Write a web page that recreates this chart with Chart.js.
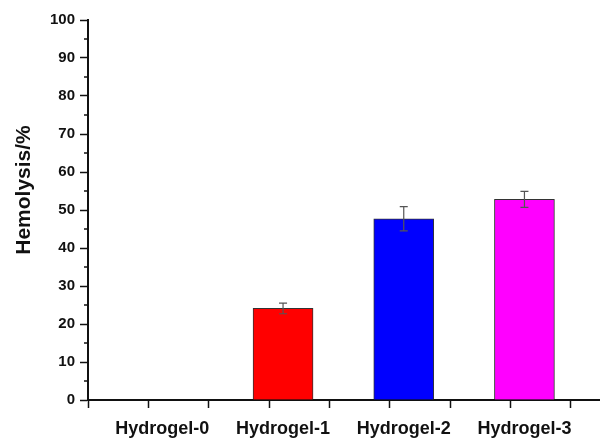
<!DOCTYPE html>
<html>
<head>
<meta charset="utf-8">
<script src="https://cdn.jsdelivr.net/npm/chart.js@4/dist/chart.umd.min.js"></script>
<style>
  body { margin: 0; background: #fff; }
</style>
</head>
<body>
<canvas id="chart" width="600" height="438"></canvas>
<script>
// data
let categories = ["Hydrogel-0", "Hydrogel-1", "Hydrogel-2", "Hydrogel-3"];
let hemolysis = [0, 24.1, 47.7, 52.8];
let errors = [0, 1.4, 3.2, 2.1];
let barColors = ["#ff0000", "#ff0000", "#0000ff", "#ff00ff"];
let yTitle = "Hemolysis/%";

let font = "'Liberation Sans', Arial, sans-serif";

// error bars on top of the columns
let errorBars = {
  id: "errorBars",
  afterDatasetsDraw(chart) {
    let ctx = chart.ctx;
    let y = chart.scales.y;
    let meta = chart.getDatasetMeta(0);
    ctx.save();
    ctx.strokeStyle = "#555";
    ctx.lineWidth = 1.2;
    meta.data.forEach((bar, i) => {
      if (!errors[i]) return;
      let top = y.getPixelForValue(hemolysis[i] + errors[i]);
      let bot = y.getPixelForValue(hemolysis[i] - errors[i]);
      ctx.beginPath();
      ctx.moveTo(bar.x, top); ctx.lineTo(bar.x, bot);
      ctx.moveTo(bar.x - 4, top); ctx.lineTo(bar.x + 4, top);
      ctx.moveTo(bar.x - 4, bot); ctx.lineTo(bar.x + 4, bot);
      ctx.stroke();
    });
    ctx.restore();
  }
};

// short minor ticks on the y axis + the y title (sits a bit above centre)
let axisExtras = {
  id: "axisExtras",
  afterDraw(chart) {
    let ctx = chart.ctx;
    let y = chart.scales.y;
    ctx.save();
    ctx.strokeStyle = "#111";
    ctx.lineWidth = 1.5;
    y.ticks.forEach(t => {
      if (t.value % 10 === 0) return;
      let py = y.getPixelForValue(t.value);
      ctx.beginPath();
      ctx.moveTo(y.right - 4, py);
      ctx.lineTo(y.right, py);
      ctx.stroke();
    });
    ctx.translate(24, (y.top + y.bottom) / 2 - 20);
    ctx.rotate(-Math.PI / 2);
    ctx.fillStyle = "#111";
    ctx.font = "bold 21px " + font;
    ctx.textAlign = "center";
    ctx.textBaseline = "middle";
    ctx.fillText(yTitle, 0, 0);
    ctx.restore();
  }
};

new Chart(document.getElementById("chart"), {
  type: "bar",
  data: {
    datasets: [{
      data: hemolysis.map((v, i) => ({x: i + 1, y: v})),
      backgroundColor: barColors,
      borderColor: "#333",
      borderWidth: 1,
      barThickness: 60
    }]
  },
  options: {
    responsive: false,
    animation: false,
    layout: {padding: {top: 20, right: 0, left: 0, bottom: 0}},
    plugins: {legend: {display: false}, tooltip: {enabled: false}},
    scales: {
      x: {
        type: "linear",
        offset: false,
        min: 0.384,
        max: 4.626,
        afterBuildTicks(scale) {
          let t = [];
          for (let k = 0; k <= 8; k++) t.push({value: scale.min + 0.5 * k});
          categories.forEach((c, i) => t.push({value: i + 1}));
          t.sort((a, b) => a.value - b.value);
          scale.ticks = t;
        },
        afterFit(scale) { scale.height = 38; },
        border: {display: true, color: "#111", width: 2},
        grid: {
          offset: false,
          drawOnChartArea: false,
          tickLength: 8,
          tickWidth: 1.5,
          tickColor: c => Number.isInteger(c.tick && c.tick.value) ? "rgba(0,0,0,0)" : "#111"
        },
        ticks: {
          autoSkip: false,
          maxRotation: 0,
          padding: 10,
          color: "#111",
          font: {family: font, size: 18, weight: "bold"},
          callback: v => Number.isInteger(v) ? categories[v - 1] : ""
        }
      },
      y: {
        min: 0,
        max: 100,
        afterFit(scale) { scale.width = 88; },
        border: {display: true, color: "#111", width: 2},
        grid: {
          drawOnChartArea: false,
          tickLength: 8,
          tickWidth: 1.5,
          tickColor: c => (c.tick && c.tick.value % 10 !== 0) ? "rgba(0,0,0,0)" : "#111"
        },
        ticks: {
          stepSize: 5,
          autoSkip: false,
          padding: 5,
          color: "#111",
          font: {family: font, size: 15, weight: "bold"},
          callback: v => v % 10 === 0 ? v : ""
        }
      }
    }
  },
  plugins: [errorBars, axisExtras]
});
</script>
</body>
</html>
